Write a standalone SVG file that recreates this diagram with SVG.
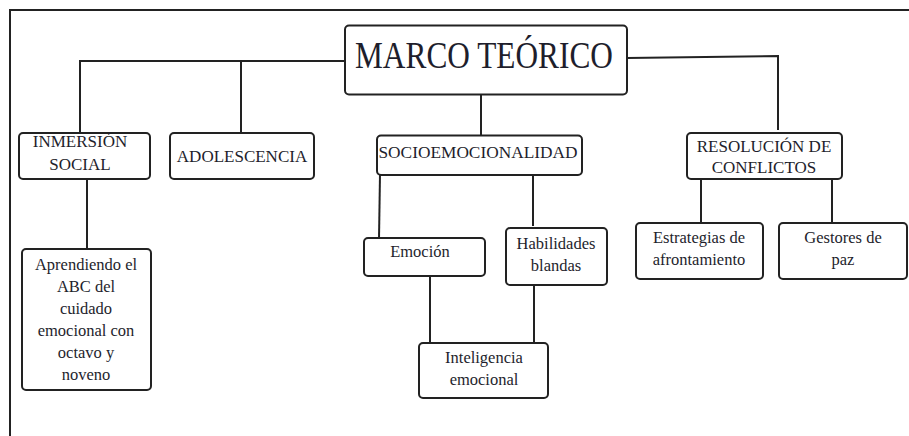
<svg xmlns="http://www.w3.org/2000/svg" width="909" height="436" viewBox="0 0 909 436">
<style>
.box{fill:#fff;stroke:#222;stroke-width:2}
.ln{stroke:#222;stroke-width:2;fill:none}
text{font-family:"Liberation Serif","Times New Roman",serif;fill:#1e1e2c;text-anchor:middle}
.up{font-size:17px}
.lo{font-size:16.5px}
</style>
<rect width="909" height="436" fill="#fff"/>
<g id="frame"><path class="ln" d="M10,436 V10 H909"/></g>
<g id="connectors">
<path class="ln" d="M345,61 H80 V133"/>
<path class="ln" d="M241,61 V133"/>
<path class="ln" d="M627,58 L778,56 V130"/>
<path class="ln" d="M481,95 V135"/>
<path class="ln" d="M87,179 V249"/>
<path class="ln" d="M380,174 L379,239"/>
<path class="ln" d="M533,175 V226"/>
<path class="ln" d="M430,276 V343"/>
<path class="ln" d="M534,285 V343"/>
<path class="ln" d="M701,179 V223"/>
<path class="ln" d="M832,179 V223"/>
</g>
<g id="marco"><rect class="box" x="345" y="25.5" width="282" height="69" rx="4"/>
<text x="484" y="68" font-size="38" textLength="258" lengthAdjust="spacingAndGlyphs">MARCO TEÓRICO</text></g>
<g id="inmersion"><rect class="box" x="19" y="133" width="131" height="46" rx="4"/>
<text class="up" x="80" y="147">INMERSIÓN</text><text class="up" x="80" y="170">SOCIAL</text></g>
<g id="adolescencia"><rect class="box" x="170" y="133" width="144" height="46" rx="4"/>
<text class="up" x="242" y="162">ADOLESCENCIA</text></g>
<g id="socio"><rect class="box" x="377" y="135.5" width="205" height="39.5" rx="4"/>
<text class="up" x="478" y="158" textLength="199" lengthAdjust="spacingAndGlyphs">SOCIOEMOCIONALIDAD</text></g>
<g id="resolucion"><rect class="box" x="687" y="133" width="155" height="46" rx="4"/>
<text class="up" x="764" y="152">RESOLUCIÓN DE</text><text class="up" x="764" y="173">CONFLICTOS</text></g>
<g id="aprendiendo"><rect class="box" x="22" y="249" width="129" height="141" rx="4"/>
<text class="lo" x="86" y="270">Aprendiendo el</text>
<text class="lo" x="86" y="292">ABC del</text>
<text class="lo" x="86" y="314">cuidado</text>
<text class="lo" x="86" y="336">emocional con</text>
<text class="lo" x="86" y="358">octavo y</text>
<text class="lo" x="86" y="380">noveno</text></g>
<g id="emocion"><rect class="box" x="364" y="238" width="121" height="38" rx="4"/>
<text class="lo" x="420" y="257">Emoción</text></g>
<g id="habilidades"><rect class="box" x="506" y="228" width="101" height="57" rx="4"/>
<text class="lo" x="556" y="249">Habilidades</text><text class="lo" x="556" y="271">blandas</text></g>
<g id="inteligencia"><rect class="box" x="419" y="343" width="129" height="55" rx="4"/>
<text class="lo" x="484" y="363">Inteligencia</text><text class="lo" x="484" y="385">emocional</text></g>
<g id="estrategias"><rect class="box" x="636" y="223" width="127" height="56" rx="4"/>
<text class="lo" x="699" y="243">Estrategias de</text><text class="lo" x="699" y="265">afrontamiento</text></g>
<g id="gestores"><rect class="box" x="779" y="223" width="128" height="56" rx="4"/>
<text class="lo" x="843" y="243">Gestores de</text><text class="lo" x="843" y="265">paz</text></g>
</svg>
